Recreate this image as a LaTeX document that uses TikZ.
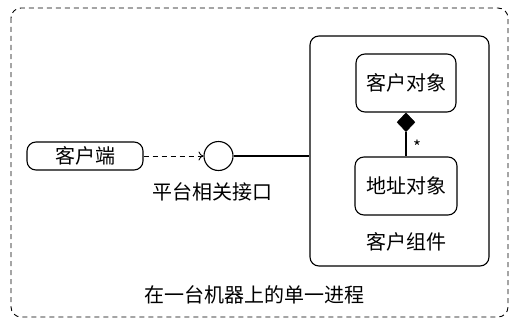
\documentclass[tikz,border=0pt]{standalone}
\usepackage{fontspec}
\setmainfont{Noto Sans CJK SC}
\usetikzlibrary{arrows.meta,shapes.geometric}
\tikzset{
  box/.style={draw, rounded corners=9pt, line width=1.1pt, inner sep=0pt, align=center},
  cjk/.style={font=\fontsize{20}{23}\selectfont},
  lbl/.style={cjk, inner sep=0pt},
  dashline/.style={dash pattern=on 5pt off 4pt, line width=0.9pt},
}
\begin{document}
\begin{tikzpicture}[x=1pt,y=-1pt]
\useasboundingbox (0,0) rectangle (510,321);
% outer process boundary
\draw[dashline, rounded corners=10pt] (11,8) rectangle (508,317);
% component
\node[box, minimum width=179pt, minimum height=230pt] (comp) at (399.5,151) {};
\node[box, cjk, minimum width=100pt, minimum height=58pt] (cobj) at (406,83) {客户对象};
\node[box, cjk, minimum width=102pt, minimum height=58pt] (aobj) at (406,186) {地址对象};
\node[lbl] (clabel) at (406,242) {客户组件};
\node[draw, fill=black, diamond, inner sep=0pt, minimum width=18pt, minimum height=19pt, anchor=north] (dia) at (cobj.south) {};
\draw[line width=1.1pt] (dia.south) -- (aobj.north);
\node[font=\fontsize{17}{18}\selectfont, inner sep=0pt] (star) at (417,147) {*};
% client and interface
\node[box, cjk, minimum width=116pt, minimum height=28pt] (client) at (85,156) {客户端};
\node[draw, circle, line width=1.1pt, minimum size=29pt, inner sep=0pt] (iface) at (218.5,156) {};
\node[lbl] (ilabel) at (212,192) {平台相关接口};
\draw[dashline, -{To[length=5pt,width=9pt]}] (client.east) -- (iface.west);
\draw[line width=1.1pt] (iface.east) -- (iface.east -| comp.west);
\node[lbl] (plabel) at (254,295) {在一台机器上的单一进程};
\end{tikzpicture}
\end{document}
